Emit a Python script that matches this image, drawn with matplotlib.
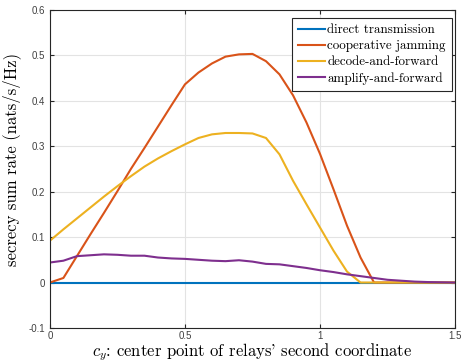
import numpy as np
import matplotlib.pyplot as plt

# relay position grid (c_y) and secrecy sum rates
c_y = np.round(np.arange(0, 1.5001, 0.05), 2)

direct = [0.0] * 31
jamming = [0.0, 0.010, 0.058, 0.106, 0.153, 0.201, 0.250, 0.296, 0.343, 0.390,
           0.436, 0.462, 0.482, 0.497, 0.502, 0.503, 0.487, 0.458, 0.412, 0.352,
           0.283, 0.205, 0.125, 0.055, 0.0, 0.0, 0.0, 0.0, 0.0, 0.0, 0.0]
decode = [0.092, 0.117, 0.141, 0.165, 0.189, 0.212, 0.234, 0.255, 0.273, 0.289,
          0.304, 0.318, 0.326, 0.329, 0.329, 0.328, 0.318, 0.282, 0.224, 0.172,
          0.121, 0.070, 0.024, 0.0, 0.0, 0.0, 0.0, 0.0, 0.0, 0.0, 0.0]
amplify = [0.044, 0.048, 0.058, 0.060, 0.062, 0.061, 0.059, 0.059, 0.055, 0.053,
           0.052, 0.050, 0.048, 0.047, 0.049, 0.046, 0.041, 0.040, 0.036, 0.032,
           0.027, 0.023, 0.018, 0.014, 0.010, 0.006, 0.004, 0.002, 0.001, 0.0005, 0.0]

labels = ['direct transmission', 'cooperative jamming',
          'decode-and-forward', 'amplify-and-forward']
colors = ['#0072BD', '#D95319', '#EDB120', '#7E2F8E']

plt.rcParams['mathtext.fontset'] = 'cm'

fig = plt.figure(figsize=(4.62, 3.64), dpi=100)
ax = fig.add_axes([0.108, 0.099, 0.877, 0.874])

for ys, lab, col in zip([direct, jamming, decode, amplify], labels, colors):
    ax.plot(c_y, ys, color=col, lw=1.5, label=lab)

ax.set_xlim(0, 1.5)
ax.set_ylim(-0.1, 0.6)
ax.set_xticks([0, 0.5, 1, 1.5])
ax.set_xticklabels(['0', '0.5', '1', '1.5'])
ax.set_yticks(np.round(np.arange(-0.1, 0.61, 0.1), 1))
ax.set_yticklabels(['-0.1', '0', '0.1', '0.2', '0.3', '0.4', '0.5', '0.6'])
ax.grid(True, color='#e3e3e3', lw=0.8)
ax.set_axisbelow(True)

ax.tick_params(direction='in', length=3, width=0.8, colors='#262626',
               top=True, right=True, labelsize=7)
ax.tick_params(axis='x', pad=2.5)
for lbl in ax.get_xticklabels() + ax.get_yticklabels():
    lbl.set_family('Liberation Sans')
    lbl.set_color('#404040')
for sp in ax.spines.values():
    sp.set_color('#262626')
    sp.set_linewidth(0.8)

# cmr10 draws ' as a right quote
ax.set_xlabel(r"$c_y$: center point of relays' second coordinate",
              family='cmr10', fontsize=12, va='baseline')
ax.xaxis.set_label_coords(0.5, -0.088)
ax.set_ylabel('secrecy sum rate (nats/s/Hz)', family='cmr10', fontsize=12,
              va='center')
ax.yaxis.set_label_coords(-0.095, 0.53)

leg = ax.legend(loc='upper right', bbox_to_anchor=(0.992, 0.974),
                borderaxespad=0, prop={'family': 'cmr10', 'size': 9.4},
                fancybox=False, framealpha=1, edgecolor='#262626',
                handlelength=2.05, handletextpad=0.2, borderpad=0.45,
                labelspacing=0.3)
leg.get_frame().set_linewidth(0.8)

fig.savefig('out.png', dpi=100)
